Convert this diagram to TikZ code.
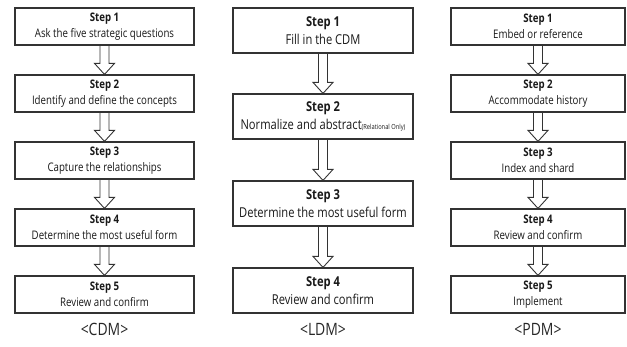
\documentclass[tikz,border=0pt]{standalone}
\usepackage{fontspec}
\setmainfont{Open Sans}[FakeStretch=0.82]
\usetikzlibrary{calc}

% hollow block arrow from the bottom of one box to the top of the next
\newcommand\hollowarrow[2]{%
  \draw[arrowline]
    ($(#1.south)+(-4.5,0)$) -- ($(#2.north)+(-4.5,-11)$) -- ++(-5.5,0)
    -- (#2.north)
    -- ($(#2.north)+(10,-11)$) -- ++(-5.5,0) -- ($(#1.south)+(4.5,0)$);}

\begin{document}
\begin{tikzpicture}[x=1pt,y=-1pt,
  stepbox/.style={draw=black!80, line width=1.2pt, fill=white, align=center,
    inner sep=0pt, text=black!90},
  smallbox/.style={stepbox, minimum height=37pt,
    font=\fontsize{11.8}{16.5}\selectfont},
  cdmbox/.style={smallbox, minimum width=179pt},
  pdmbox/.style={smallbox, minimum width=174pt},
  ldmbox/.style={stepbox, minimum width=180pt, minimum height=45pt,
    font=\fontsize{13.6}{18}\selectfont},
  arrowline/.style={draw=black!80, line width=0.9pt, line join=miter},
  modellabel/.style={font=\fontsize{17}{20}\selectfont, text=black!85, inner sep=0pt}
]
\useasboundingbox (0,0) rectangle (627,347);

% conceptual data model
\node[cdmbox] (c1) at (104.5,26.5)  {\textbf{Step 1}\\Ask the five strategic questions};
\node[cdmbox] (c2) at (104.5,93.5)  {\textbf{Step 2}\\Identify and define the concepts};
\node[cdmbox] (c3) at (104.5,160.5) {\textbf{Step 3}\\Capture the relationships};
\node[cdmbox] (c4) at (104.5,227.5) {\textbf{Step 4}\\Determine the most useful form};
\node[cdmbox] (c5) at (104.5,294.5) {\textbf{Step 5}\\Review and confirm};
\node[modellabel] (cdm) at (104.5,329) {<CDM>};

% logical data model
\node[ldmbox] (l1) at (323,30.5)  {\textbf{Step 1}\\Fill in the CDM};
\node[ldmbox] (l2) at (323,116.5) {\textbf{Step 2}\\Normalize and abstract{\fontsize{7}{9}\selectfont(Relational Only)}};
\node[ldmbox] (l3) at (323,203.5) {\textbf{Step 3}\\Determine the most useful form};
\node[ldmbox] (l4) at (323,290.5) {\textbf{Step 4}\\Review and confirm};
\node[modellabel] (ldm) at (323,329) {<LDM>};

% physical data model
\node[pdmbox] (p1) at (538,26.5)  {\textbf{Step 1}\\Embed or reference};
\node[pdmbox] (p2) at (538,93.5)  {\textbf{Step 2}\\Accommodate history};
\node[pdmbox] (p3) at (538,160.5) {\textbf{Step 3}\\Index and shard};
\node[pdmbox] (p4) at (538,227.5) {\textbf{Step 4}\\Review and confirm};
\node[pdmbox] (p5) at (538,294.5) {\textbf{Step 5}\\Implement};
\node[modellabel] (pdm) at (538,329) {<PDM>};

\hollowarrow{c1}{c2}
\hollowarrow{c2}{c3}
\hollowarrow{c3}{c4}
\hollowarrow{c4}{c5}

\hollowarrow{l1}{l2}
\hollowarrow{l2}{l3}
\hollowarrow{l3}{l4}

\hollowarrow{p1}{p2}
\hollowarrow{p2}{p3}
\hollowarrow{p3}{p4}
\hollowarrow{p4}{p5}
\end{tikzpicture}
\end{document}
